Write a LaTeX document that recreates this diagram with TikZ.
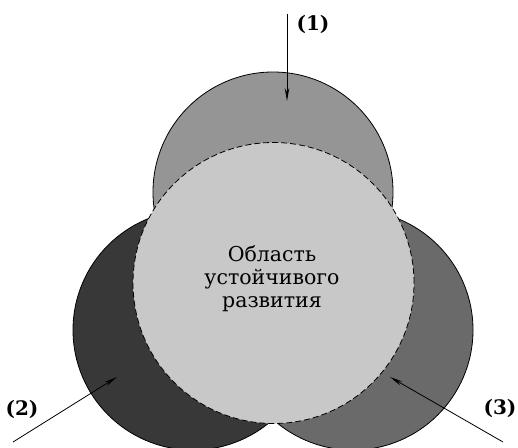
\documentclass[tikz,border=0pt]{standalone}
\usepackage{fontspec}
\setmainfont{DejaVu Serif}
\usetikzlibrary{arrows.meta}
\definecolor{topgray}{HTML}{959595}
\definecolor{leftgray}{HTML}{383838}
\definecolor{rightgray}{HTML}{6A6A6A}
\definecolor{centergray}{HTML}{C8C8C8}
\tikzset{
  ring/.style={circle, draw=black, line width=0.8pt, inner sep=0pt, minimum size=240pt},
  core/.style={circle, draw=black, line width=0.8pt, dash pattern=on 6pt off 3pt, inner sep=0pt, minimum size=281pt, fill=centergray},
  pointer/.style={draw=black, line width=0.8pt, -{Stealth[length=13pt,width=4.5pt]}},
  tag/.style={font=\bfseries\fontsize{20}{24}\selectfont, inner sep=0pt},
  caption/.style={align=center, font=\fontsize{20.5}{23}\selectfont, inner sep=0pt}
}
\begin{document}
\begin{tikzpicture}[x=1pt,y=-1pt]
\useasboundingbox (0,0) rectangle (518,447);
\node[ring, fill=topgray] (top) at (273,192) {};
\node[ring, fill=leftgray] (left) at (193,330) {};
\node[ring, fill=rightgray] (right) at (353,330) {};
\node[core] (center) at (273.5,283) {};
\node[caption] (text) at (272,279) {Область\\устойчивого\\развития};
\coordinate (s1) at (287,14);
\coordinate (e1) at (287,101);
\coordinate (s2) at (13,442);
\coordinate (e2) at (117,377);
\coordinate (s3) at (503,442);
\coordinate (e3) at (390,377);
\draw[pointer] (s1) -- (e1);
\draw[pointer] (s2) -- (e2);
\draw[pointer] (s3) -- (e3);
\node[tag] (l1) at (313,24) {(1)};
\node[tag] (l2) at (22,409) {(2)};
\node[tag] (l3) at (500,408) {(3)};
\end{tikzpicture}
\end{document}
